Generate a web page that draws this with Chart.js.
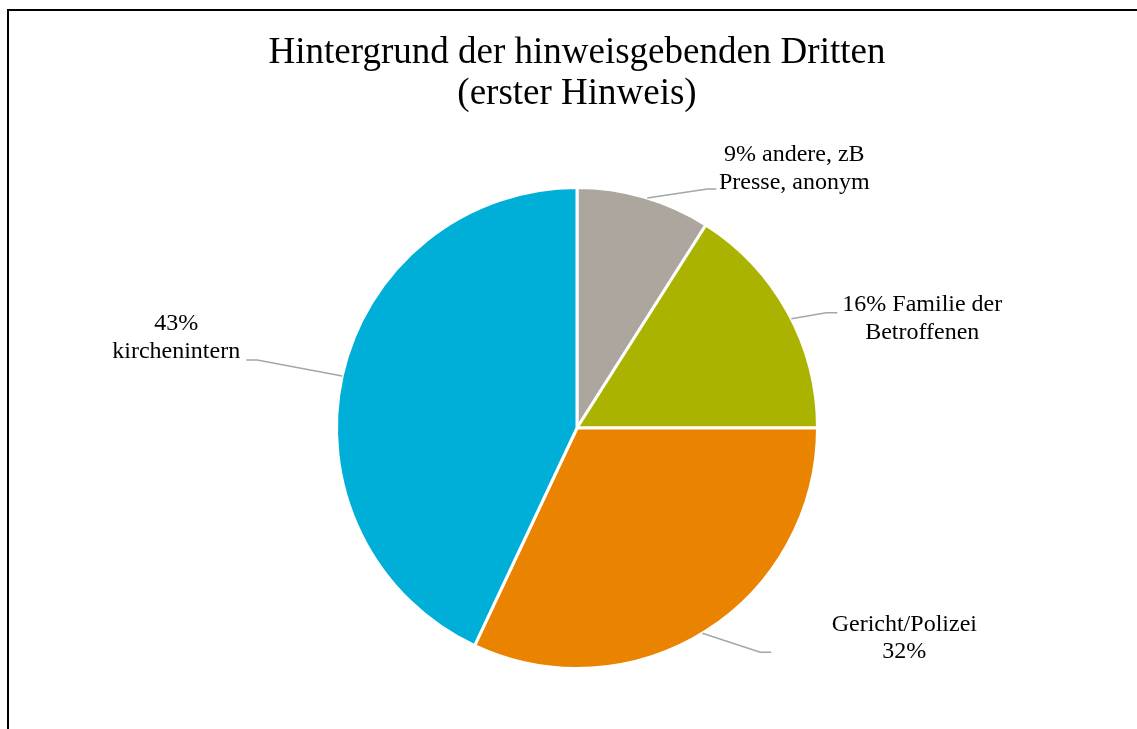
<!DOCTYPE html>
<html>
<head>
<meta charset="utf-8">
<script src="https://cdn.jsdelivr.net/npm/chart.js@4"></script>
<style>
    html, body { margin: 0; padding: 0; background: #fff; overflow: hidden; }
    #frame { position: absolute; left: 7px; top: 9px; width: 1300px; height: 900px; border: 2px solid #000; box-sizing: border-box; }
    #wrap { position: absolute; left: 0; top: 0; width: 1137px; height: 729px; }
</style>
</head>
<body>
<div id="frame"></div>
<div id="wrap"><canvas id="pieChart"></canvas></div>
<script>
// Data
const titleLines = ['Hintergrund der hinweisgebenden Dritten', '(erster Hinweis)'];
const categories = ['andere, zB Presse, anonym', 'Familie der Betroffenen', 'Gericht/Polizei', 'kirchenintern'];
const shares = [9, 16, 32, 43];
const labelLines = [
    ['9% andere, zB', 'Presse, anonym'],
    ['16% Familie der', 'Betroffenen'],
    ['Gericht/Polizei', '32%'],
    ['43%', 'kirchenintern']
];
const sliceColors = ['#ADA69F', '#AAB400', '#E98300', '#00AFD7'];

// leader layout per slice: angle on arc (deg from top, clockwise), elbow (dx, dy from arc point), horizontal tail, text offset from elbow
const leaders = [
    { at: 17,    elbow: [60, -9],   tail: 9,   text: [87, -34] },
    { at: 63,    elbow: [35, -6],   tail: 11,  text: [96, -8] },
    { at: 148.6, elbow: [58, 19],   tail: 11,  text: [144, -28] },
    { at: 282.5, elbow: [-85, -16], tail: -11, text: [-81, -36] }
];

const serif = '"Liberation Serif", "Times New Roman", serif';

const titlePlugin = {
    id: 'titleText',
    afterDraw(chart) {
        const ctx = chart.ctx;
        const arc = chart.getDatasetMeta(0).data[0];
        ctx.save();
        ctx.fillStyle = '#000';
        ctx.font = '37px ' + serif;
        ctx.textAlign = 'center';
        ctx.textBaseline = 'alphabetic';
        titleLines.forEach((line, i) => ctx.fillText(line, arc.x, 63 + i * 41));
        ctx.restore();
    }
};

const labelPlugin = {
    id: 'leaderLabels',
    afterDraw(chart) {
        const ctx = chart.ctx;
        const arcs = chart.getDatasetMeta(0).data;
        ctx.save();
        arcs.forEach((arc, i) => {
            const cfg = leaders[i];
            const a = (cfg.at - 90) * Math.PI / 180;
            const r = arc.outerRadius;
            const sx = arc.x + Math.cos(a) * r;
            const sy = arc.y + Math.sin(a) * r;
            const ex = sx + cfg.elbow[0];
            const ey = sy + cfg.elbow[1];
            ctx.strokeStyle = '#A6A6A6';
            ctx.lineWidth = 1.5;
            ctx.beginPath();
            ctx.moveTo(sx, sy);
            ctx.lineTo(ex, ey);
            ctx.lineTo(ex + cfg.tail, ey);
            ctx.stroke();

            ctx.fillStyle = '#000';
            ctx.font = '24px ' + serif;
            ctx.textAlign = 'center';
            ctx.textBaseline = 'middle';
            const tx = ex + cfg.text[0];
            const ty = ey + cfg.text[1];
            labelLines[i].forEach((line, j) => ctx.fillText(line, tx, ty + j * 27.5));
        });
        ctx.restore();
    }
};

new Chart(document.getElementById('pieChart'), {
    type: 'pie',
    data: {
        labels: categories,
        datasets: [{
            data: shares,
            backgroundColor: sliceColors,
            borderColor: '#ffffff',
            borderWidth: 3
        }]
    },
    options: {
        responsive: true,
        maintainAspectRatio: false,
        animation: false,
        layout: {
            padding: { top: 186, bottom: 59, left: 335, right: 318 }
        },
        plugins: {
            legend: { display: false },
            title: { display: false },
            tooltip: { enabled: false }
        }
    },
    plugins: [titlePlugin, labelPlugin]
});
</script>
</body>
</html>
